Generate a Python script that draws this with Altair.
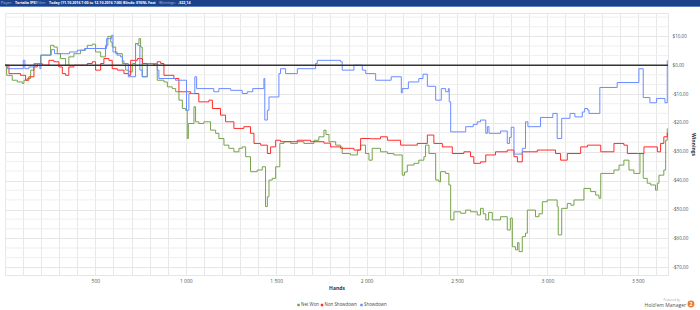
import altair as alt
import pandas as pd

# ---------------- data ----------------
net_hands = [0, 9, 40, 68, 96, 105, 123, 142, 160, 197, 252, 270, 289, 307, 335, 353, 381, 418, 446, 455,
             483, 501, 529, 556, 569, 585, 593, 612, 649, 667, 685, 704, 722, 741, 750, 759, 787, 824, 842,
             879, 898, 925, 944, 962, 981, 999, 1008, 1014, 1045, 1054, 1072, 1100, 1128, 1137, 1165, 1183,
             1211, 1238, 1266, 1294, 1312, 1331, 1358, 1395, 1423, 1441, 1451, 1460, 1478, 1497, 1520, 1543,
             1580, 1617, 1653, 1709, 1736, 1764, 1775, 1792, 1829, 1856, 1865, 1911, 1949, 1967, 1994, 2013,
             2031, 2077, 2115, 2151, 2197, 2210, 2225, 2262, 2289, 2317, 2326, 2345, 2382, 2400, 2409, 2437,
             2455, 2465, 2483, 2520, 2548, 2575, 2612, 2630, 2645, 2659, 2675, 2695, 2741, 2778, 2795, 2806,
             2824, 2835, 2843, 2861, 2879, 2889, 2934, 2953, 2972, 2999, 3054, 3060, 3079, 3110, 3130, 3147,
             3202, 3239, 3267, 3285, 3295, 3368, 3396, 3423, 3451, 3478, 3512, 3530, 3552, 3571, 3598, 3608,
             3617, 3644, 3654, 3663]
net_won = [0, -3.5, -5.2, -5.8, -6.3, -5.2, -4.6, -1.7, 0.6, 3.5, 6.9, 6.3, 4.0, 2.3, 0, 2.9, 4.0, 5.2, 5.8, 6.9,
           7.3, 4.6, 2.9, 6.9, 10.0, 8.0, 6.3, 4.0, 0.6, -1.7, -2.3, 0.6, 7.5, 9.2, 6.3, -4.0, 0.6, 0, -5.2,
           -5.8, -7.5, -8.1, -9.2, -12.1, -15.0, -15.6, -25.4, -20.2, -14.4, -19.6, -20.2, -19.6, -19.6, -22.5,
           -23.6, -25.4, -27.7, -28.8, -30.0, -28.8, -28.3, -31.7, -36.9, -36.3, -35.2, -49.0, -45.6, -39.8,
           -39.2, -35.2, -27.1, -26.5, -27.1, -26.5, -27.1, -26.0, -24.8, -22.5, -24.0, -26.5, -27.7, -28.3,
           -30.6, -31.1, -29.4, -27.7, -30.6, -32.9, -28.8, -30.0, -30.6, -31.1, -38.1, -37.0, -34.6, -34.0,
           -32.9, -31.7, -27.7, -30.6, -39.8, -40.4, -36.9, -37.5, -41.5, -53.6, -50.8, -51.3, -50.2, -50.8,
           -51.9, -49.6, -51.5, -53.6, -51.0, -53.6, -52.5, -57.1, -53.0, -62.9, -64.0, -61.5, -64.6, -59.4,
           -58.2, -50.2, -52.5, -51.5, -47.3, -46.7, -49.0, -58.8, -49.6, -47.9, -48.5, -46.7, -42.7, -43.8,
           -45.0, -46.1, -37.5, -36.3, -34.6, -32.9, -36.3, -37.5, -30.6, -39.2, -40.9, -41.5, -43.3, -40.9,
           -38.1, -36.3, -26.0, -21.9]

nsd_hands = [0, 9, 22, 49, 86, 114, 132, 160, 179, 206, 243, 270, 298, 317, 335, 353, 381, 418, 455, 483, 501,
             529, 547, 575, 593, 621, 658, 685, 695, 732, 760, 796, 824, 842, 861, 879, 934, 962, 1027, 1072,
             1128, 1147, 1192, 1220, 1266, 1321, 1358, 1377, 1414, 1451, 1469, 1497, 1524, 1617, 1690, 1764,
             1801, 1856, 1930, 1967, 2022, 2077, 2115, 2188, 2280, 2336, 2372, 2419, 2474, 2538, 2575, 2593,
             2630, 2659, 2713, 2778, 2815, 2834, 2861, 2944, 3045, 3073, 3110, 3184, 3221, 3295, 3368, 3423,
             3442, 3497, 3534, 3608, 3626, 3644, 3663]
nsd_won = [0, 0, -2.9, -2.9, -3.5, -5.2, -4.0, -0.6, 0.6, 0, 1.7, 1.2, -0.6, -2.9, -3.5, -0.6, 0, 0, 0.6, 1.2,
           -1.7, 0.6, 2.3, 1.7, -1.2, -1.7, -2.9, -3.5, 1.7, 2.3, 0.6, 0.6, 0, 1.2, 0.6, -3.5, -4.6, -9.2, -9.8,
           -12.7, -12.1, -15.0, -17.3, -19.6, -21.9, -21.3, -23.6, -27.1, -27.7, -30.6, -28.3, -26.0, -26.5,
           -26.0, -26.5, -27.0, -28.3, -28.8, -29.4, -25.4, -25.5, -24.8, -26.0, -27.7, -27.1, -24.2, -27.1,
           -28.3, -30.6, -30.0, -31.7, -34.0, -33.5, -31.1, -30.0, -29.4, -31.7, -33.5, -30.0, -29.4, -30.6,
           -32.9, -30.6, -28.3, -27.7, -30.0, -27.1, -27.7, -30.6, -30.6, -28.3, -30.0, -27.1, -24.8, -23.4]

sd_hands = [0, 13, 101, 110, 132, 165, 193, 199, 256, 274, 357, 400, 440, 562, 590, 597, 620, 639, 650, 658,
            682, 722, 735, 746, 759, 787, 842, 851, 943, 1004, 1017, 1050, 1060, 1155, 1183, 1248, 1312, 1340,
            1370, 1432, 1437, 1451, 1460, 1515, 1524, 1552, 1617, 1718, 1727, 1856, 1865, 1930, 1976, 1995,
            2050, 2136, 2192, 2197, 2231, 2289, 2312, 2336, 2382, 2413, 2437, 2452, 2457, 2465, 2548, 2590,
            2612, 2630, 2659, 2668, 2677, 2741, 2778, 2790, 2800, 2815, 2861, 2879, 2892, 2962, 3030, 3054,
            3079, 3125, 3152, 3193, 3206, 3222, 3230, 3290, 3386, 3506, 3530, 3567, 3604, 3650, 3663]
sd_won = [0, -1.2, 1.7, -1.2, -0.6, 0.6, -1.2, 3.5, 5.4, 4.0, 4.6, 5.2, 5.8, 9.2, 10.4, 4.6, 3.5, 2.9, 1.5, 0.6,
          -4.0, 7.5, 6.9, -1.7, -4.0, 0.6, -1.7, -4.6, -5.2, -15.6, -9.8, -4.0, -8.1, -9.2, -8.1, -8.7, -9.8,
          -9.2, -8.1, -4.6, -19.0, -15.6, -11.0, -2.9, -1.2, -2.9, -1.2, 0.6, 1.7, 1.2, -1.7, 0, -1.7, -2.9,
          -5.2, -4.0, -9.6, -8.1, -5.8, -4.6, -3.1, -7.3, -12.1, -8.1, -9.2, -8.1, -12.7, -23.1, -21.3, -20.5,
          -19.6, -19.0, -23.6, -21.3, -23.6, -22.8, -27.1, -25.0, -21.5, -30.8, -28.8, -19.6, -21.3, -18.1,
          -16.7, -25.4, -18.4, -16.7, -17.9, -16.2, -15.0, -15.5, -16.7, -7.7, -6.0, -1.2, -11.2, -13.0,
          -11.5, -13.0, 1.7]

series_names = ["Net Won", "Non Showdown", "Showdown"]
series_colors = ["#76a34a", "#ff2b2b", "#6a8bff"]

header_parts = ["Player:", "Tartalia [PS]", "Filter:",
                "Today (11.10.2016 7:00 to 12.10.2016 7:00) Blinds: $10NL Fast",
                "Winnings:", "-$22,14"]

x_ticks = list(range(0, 3700, 100))
y_ticks = list(range(-70, 20, 10))
y_minor = [round(t + d, 3) for t in range(-80, 20, 10) for d in (10 / 3, 20 / 3)]
y_minor = [v for v in y_minor if -72.7 < v < 18.1]

FONT = "Open Sans"

frames = []
for name, h, v in zip(series_names, [net_hands, nsd_hands, sd_hands], [net_won, nsd_won, sd_won]):
    frames.append(pd.DataFrame({"hand": h, "won": v, "series": name}))
df = pd.concat(frames, ignore_index=True)

one = pd.DataFrame({"a": [0]})

x_label_expr = ("datum.value % 500 === 0 && datum.value > 0 ? "
                "replace(format(datum.value, ','), ',', ' ') : ''")
y_label_expr = ("(datum.value < 0 ? '-$' : '$') + "
                "replace(format(abs(datum.value), '.2f'), '.', ',')")

y_scale = alt.Scale(domain=[-72.7, 18.1], nice=False, zero=False)
y_axis = alt.Axis(orient="right", values=y_ticks, labelExpr=y_label_expr, title="Winnings",
                  grid=True, gridColor="#e6e6e6", gridWidth=1,
                  ticks=False, domain=False, labelFontSize=4.6, labelColor="#555",
                  labelFont=FONT, labelPadding=4, labelOverlap=False, labelFlush=False,
                  titleFont=FONT, titleFontSize=5, titleFontWeight="bold", titleColor="#333",
                  titlePadding=3)

minor_grid = alt.Chart(pd.DataFrame({"g": y_minor})).mark_rule(color="#efefef", strokeWidth=1).encode(
    y=alt.Y("g:Q", scale=y_scale, axis=y_axis, title="Winnings")
)

lines = alt.Chart(df).mark_line(interpolate="step-after", strokeWidth=1).encode(
    x=alt.X("hand:Q",
            scale=alt.Scale(domain=[0, 3667], nice=False, zero=False),
            axis=alt.Axis(values=x_ticks, labelExpr=x_label_expr, title="Hands",
                          grid=True, gridColor="#e8e8e8", gridWidth=1,
                          ticks=False, domain=False, labelFontSize=5, labelColor="#555",
                          labelFont=FONT, labelPadding=3, labelOverlap=False, labelFlush=False,
                          titleFont=FONT, titleFontSize=5, titleFontWeight="bold", titleColor="#333",
                          titlePadding=2)),
    y=alt.Y("won:Q", scale=y_scale, axis=y_axis, title="Winnings"),
    color=alt.Color("series:N",
                    scale=alt.Scale(domain=series_names, range=series_colors),
                    legend=None),
)

zero_rule = alt.Chart(pd.DataFrame({"v": [0]})).mark_rule(color="#333", strokeWidth=1.5).encode(
    y=alt.Y("v:Q", scale=y_scale, axis=y_axis, title="Winnings")
)

# manual legend (bottom centre)
legend_sym_x = [293.5, 317.0, 356.5]
legend_layers = []
for name, col, sx in zip(series_names, series_colors, legend_sym_x):
    legend_layers.append(
        alt.Chart(one).mark_square(size=6, color=col, opacity=1).encode(
            x=alt.value(sx), y=alt.value(292))
    )
    legend_layers.append(
        alt.Chart(one).mark_text(align="left", baseline="middle", fontSize=4.4, font=FONT,
                                 color="#444").encode(
            x=alt.value(sx + 2.6), y=alt.value(292.2), text=alt.value(name))
    )

header_bg = alt.Chart(one).mark_rect(color="#1c4289").encode(
    x=alt.value(-5), x2=alt.value(695), y=alt.value(-13), y2=alt.value(-7)
)
header_line = alt.Chart(one).mark_rect(color="#5c7fbf").encode(
    x=alt.value(-5), x2=alt.value(695), y=alt.value(-7), y2=alt.value(-6)
)

header_x = [-4.3, 10, 31.7, 44, 154, 173]
header_colors = ["#aebfe0", "#ffffff", "#aebfe0", "#ffffff", "#aebfe0", "#ffffff"]
header_weights = ["normal", "bold", "normal", "bold", "normal", "bold"]
header_layers = []
for txt, hx, hc, hw in zip(header_parts, header_x, header_colors, header_weights):
    header_layers.append(
        alt.Chart(one).mark_text(align="left", baseline="middle", fontSize=3.6, font=FONT,
                                 color=hc, fontWeight=hw).encode(
            x=alt.value(hx), y=alt.value(-10), text=alt.value(txt))
    )

powered = alt.Chart(one).mark_text(align="right", baseline="middle", fontSize=3, font=FONT,
                                   color="#aaaaaa").encode(
    x=alt.value(675), y=alt.value(286.5), text=alt.value("Powered by"))
hm_text = alt.Chart(one).mark_text(align="right", baseline="middle", fontSize=5, font=FONT,
                                   color="#555555").encode(
    x=alt.value(681), y=alt.value(291.5), text=alt.value("Hold'em Manager"))
logo = alt.Chart(one).mark_circle(size=48, color="#f07a2a", opacity=1).encode(
    x=alt.value(686), y=alt.value(291))
logo_txt = alt.Chart(one).mark_text(align="center", baseline="middle", fontSize=5, font=FONT,
                                    color="#ffffff", fontWeight="bold").encode(
    x=alt.value(686), y=alt.value(291.3), text=alt.value("2"))

chart = alt.layer(minor_grid, lines, zero_rule, header_bg, header_line, *header_layers,
                  *legend_layers, powered, hm_text, logo, logo_txt).properties(
    width=663, height=262,
    padding={"left": 5, "top": 13, "right": 32, "bottom": 35},
    autosize=alt.AutoSizeParams(type="none"),
    background="#ffffff",
).configure_view(stroke="#e6e6e6")

chart.save("out.html", embed_options={"renderer": "svg", "actions": False})
